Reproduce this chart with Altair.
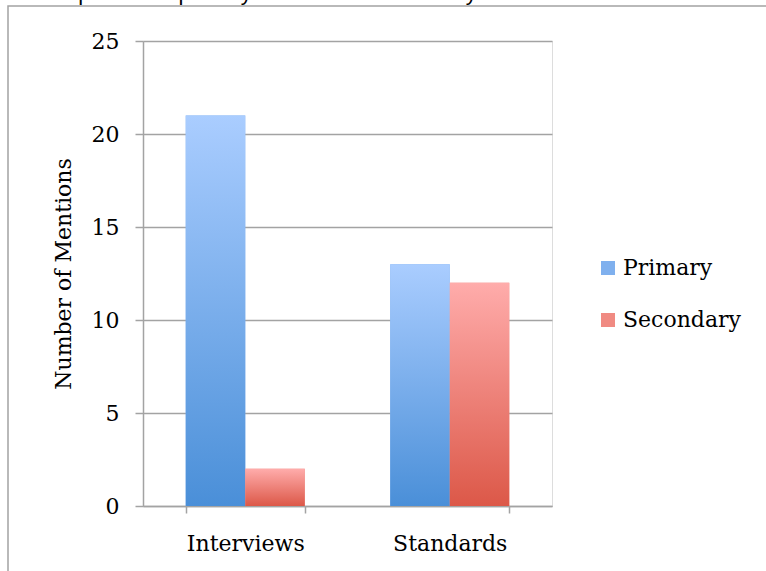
import altair as alt
import pandas as pd

categories = ["Interviews", "Standards"]
series = ["Primary", "Secondary"]
primary_values = [21, 13]
secondary_values = [2, 12]
y_ticks = [0, 5, 10, 15, 20, 25]
cut_title = "Emphasis on primary sources vs. secondary sources."

rows = []
for c, p, s in zip(categories, primary_values, secondary_values):
    rows.append({"category": c, "series": "Primary", "value": p})
    rows.append({"category": c, "series": "Secondary", "value": s})
df = pd.DataFrame(rows)

FONT = "DejaVu Serif"
GRAY = "#a3a3a3"

blue_grad = alt.Gradient(
    gradient="linear", x1=0, y1=0, x2=0, y2=1,
    stops=[alt.GradientStop(color="#aacdff", offset=0),
           alt.GradientStop(color="#4a8fd8", offset=1)])
red_grad = alt.Gradient(
    gradient="linear", x1=0, y1=0, x2=0, y2=1,
    stops=[alt.GradientStop(color="#ffacab", offset=0),
           alt.GradientStop(color="#dc5848", offset=1)])

base = alt.Chart(df).encode(
    x=alt.X("category:N", sort=categories, title=None,
            scale=alt.Scale(paddingInner=0.418, paddingOuter=0.209),
            axis=alt.Axis(tickBand="extent", tickSize=7, tickWidth=1.5, tickColor=GRAY,
                          domainColor=GRAY, domainWidth=1.5, labelAngle=0,
                          labelFont=FONT, labelFontSize=22, labelColor="#000000",
                          labelPadding=20, grid=False)),
    xOffset=alt.XOffset("series:N", sort=series),
    y=alt.Y("value:Q", scale=alt.Scale(domain=[0, 25], nice=False),
            axis=alt.Axis(values=y_ticks, grid=True, gridColor=GRAY, gridWidth=1.5,
                          domainColor=GRAY, domainWidth=1.5, tickColor=GRAY,
                          tickSize=8, tickWidth=1.5, labelFont=FONT, labelFontSize=22,
                          labelColor="#000000", labelPadding=16,
                          title="Number of Mentions", titleFont=FONT, titleFontSize=22,
                          titleFontWeight="normal", titleColor="#000000", titlePadding=16)),
)

legend_layer = base.mark_bar().encode(
    color=alt.Color("series:N",
                    scale=alt.Scale(domain=series, range=["#7fb0ee", "#f08a82"]),
                    legend=alt.Legend(title=None, orient="none", legendX=454, legendY=216,
                                      symbolType="square", symbolSize=196,
                                      symbolStrokeWidth=0, symbolOpacity=1,
                                      labelFont=FONT, labelFontSize=22,
                                      labelColor="#000000", rowPadding=30,
                                      labelOffset=4, padding=0))
)
primary_layer = base.transform_filter(alt.datum.series == "Primary").mark_bar(color=blue_grad)
secondary_layer = base.transform_filter(alt.datum.series == "Secondary").mark_bar(color=red_grad)

dummy = pd.DataFrame({"t": [cut_title]})
frame = alt.Chart(dummy).mark_rect(filled=False, stroke=GRAY, strokeWidth=1.5).encode(
    x=alt.value(-135), x2=alt.value(800), y=alt.value(-35), y2=alt.value(700))
top_text = alt.Chart(dummy).mark_text(align="right", baseline="alphabetic",
                                      font="Liberation Sans", fontSize=22,
                                      color="#000000").encode(
    text="t:N", x=alt.value(423), y=alt.value(-41))

chart = alt.layer(frame, top_text, legend_layer, primary_layer, secondary_layer).properties(
    width=409, height=465,
    autosize=alt.AutoSizeParams(type="none"),
    padding={"left": 143, "top": 41, "right": 214, "bottom": 65},
).configure_view(stroke=None).configure(background="white")

chart.save("out.html", embed_options={"renderer": "svg", "actions": False})
